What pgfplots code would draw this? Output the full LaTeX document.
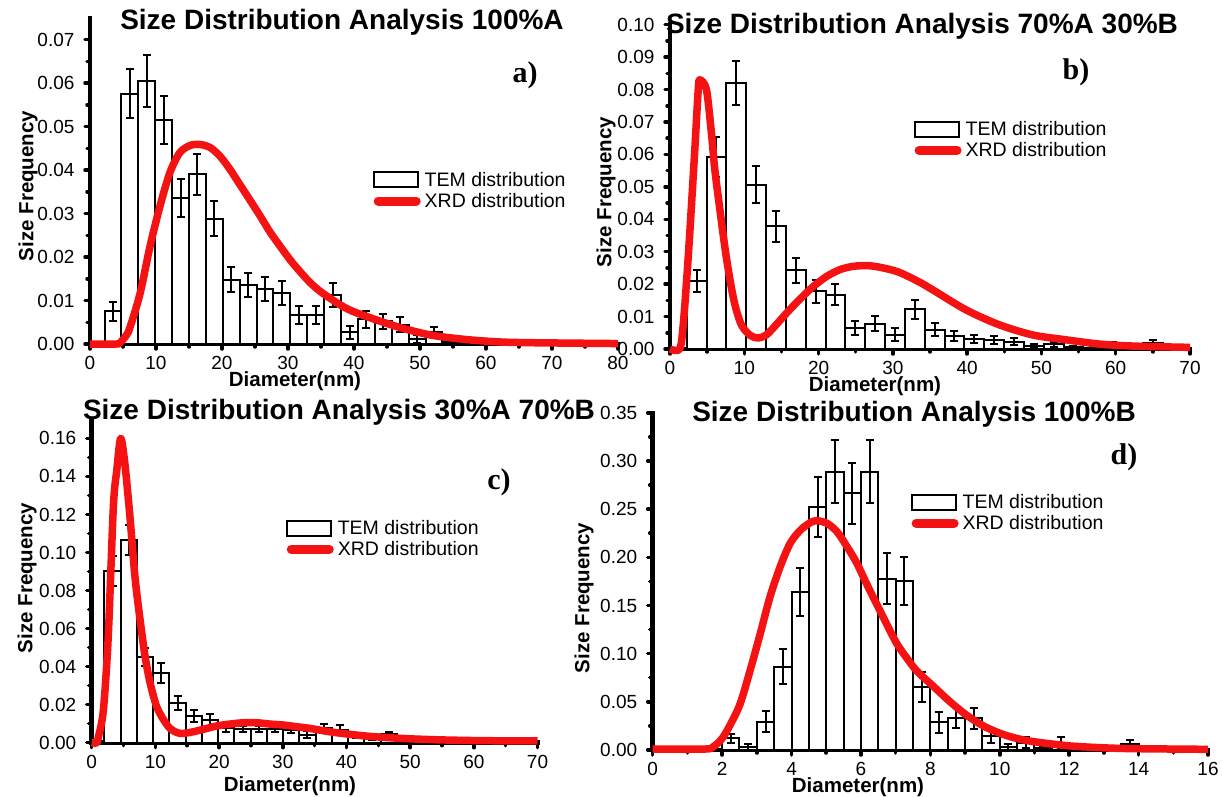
\documentclass[border=0pt]{standalone}
\usepackage{fontspec}
\setmainfont{Liberation Sans}
\newfontfamily\letterfont{Liberation Serif}
\usepackage{pgfplots}
\pgfplotsset{compat=1.18}
\definecolor{xrdred}{RGB}{245,18,18}
\tikzset{axframe/.style={line width=4.5pt, black, line cap=rect}}

\pgfplotsset{
  sizeplot/.style={
    scale only axis, axis lines=left,
    axis line style={-, line width=4.5pt, black},
    clip=false, anchor=south west, xmin=0, ymin=0,
    tick align=outside, major tick length=5pt, minor tick length=3pt,
    tick style={black, line width=3.5pt, line cap=round},
    minor x tick num=1, minor y tick num=1,
    scaled y ticks=false,
    tick label style={font=\fontsize{19}{22}\selectfont},
    xticklabel style={yshift=-4pt},
    /pgf/number format/assume math mode=true,
    yticklabel style={xshift=-7pt, /pgf/number format/.cd, fixed, fixed zerofill, precision=2},
    legend cell align=left,
    legend style={draw=none, fill=none, anchor=north west, inner sep=0pt,
      font=\fontsize{19.5}{22}\selectfont, row sep=1.5pt, nodes={inner sep=2pt},
      column sep=2pt},
  },
  tem/.style={ybar, bar shift=0pt, draw=black, fill=white, line width=2pt,
    error bars/y dir=both, error bars/y explicit,
    error bars/error bar style={line width=2pt, black},
    error bars/error mark options={rotate=90, mark size=4pt, line width=2pt, black},
    legend image code/.code={\draw[black, line width=2pt, fill=white] (0pt,-7.5pt) rectangle (44pt,7.5pt);}},
  xrd/.style={xrdred, line width=7.5pt, smooth, tension=0.5, line join=round, no marks,
    legend image code/.code={\draw[xrdred, line width=9pt, line cap=round] (4pt,0pt) -- (42pt,0pt);}},
}

\begin{document}
\begin{tikzpicture}[x=1pt,y=1pt]
\useasboundingbox (0,0) rectangle (1222,796);
\coordinate (pa) at (90,452);
\coordinate (pb) at (670,447);
\coordinate (pc) at (91.7,53.3);
\coordinate (pd) at (652.7,46);

% a) 100%A
\begin{axis}[sizeplot, at={(pa)}, width=528pt, height=326pt,
  xmax=80, ymax=0.075, xtick={0,10,...,80},
  ytick={0,0.01,0.02,0.03,0.04,0.05,0.06,0.07},
  legend style={at={(0.536,0.534)}}]
\draw[axframe] (rel axis cs:0,1) -- (rel axis cs:0,0) -- (rel axis cs:1,0);
\addplot[bar width=2.56, tem] coordinates {
 (3.48,0.0075) +- (0,0.0022)
 (6.04,0.0576) +- (0,0.0057)
 (8.60,0.0605) +- (0,0.0059)
 (11.16,0.0515) +- (0,0.0055)
 (13.72,0.0336) +- (0,0.0044)
 (16.28,0.0390) +- (0,0.0048)
 (18.84,0.0288) +- (0,0.0040)
 (21.40,0.0148) +- (0,0.0029)
 (23.96,0.0136) +- (0,0.0027)
 (26.52,0.0127) +- (0,0.0027)
 (29.08,0.0118) +- (0,0.0028)
 (31.64,0.0067) +- (0,0.0021)
 (34.20,0.0067) +- (0,0.0021)
 (36.76,0.0113) +- (0,0.0027)
 (39.32,0.0027) +- (0,0.0015)
 (41.88,0.0057) +- (0,0.0020)
 (44.44,0.0052) +- (0,0.0018)
 (47.00,0.0044) +- (0,0.0017)
 (49.56,0.0011) +- (0,0.0009)
 (52.12,0.0027) +- (0,0.0013)
 (54.68,0.0005) +- (0,0.0003)
};
\addplot[xrd] coordinates {
 (0,0) (4,0) (4.5,0.0002) (5.5,0.002) (6.1,0.004) (7.6,0.0117) (9.1,0.0225)
 (10.6,0.0317) (12.1,0.0394) (13.6,0.044) (15.2,0.0457) (16.7,0.0459)
 (18.2,0.0452) (19.7,0.0432) (21.2,0.0402) (22.7,0.0367) (24.2,0.0332)
 (25.8,0.0294) (27.3,0.0257) (28.8,0.0225) (30.3,0.0194) (31.8,0.0167)
 (33.3,0.0142) (34.8,0.0122) (36.4,0.0105) (37.9,0.009) (39.4,0.0078)
 (41.4,0.0066) (46.5,0.004) (51.5,0.0021) (56.5,0.0011) (61.7,0.0005)
 (66.7,0.0003) (80,0.0001)
};
\legend{TEM distribution, XRD distribution}
\end{axis}

% b) 70%A 30%B
\begin{axis}[sizeplot, at={(pb)}, width=520pt, height=324.3pt,
  xmax=70, ymax=0.10, xtick={0,10,...,70},
  ytick={0,0.01,0.02,0.03,0.04,0.05,0.06,0.07,0.08,0.09,0.10},
  legend style={at={(0.469,0.709)}}]
\draw[axframe] (rel axis cs:0,1) -- (rel axis cs:0,0) -- (rel axis cs:1,0);
\addplot[bar width=2.67, tem] coordinates {
 (3.58,0.0211) +- (0,0.0034)
 (6.25,0.0591) +- (0,0.0062)
 (8.92,0.0820) +- (0,0.0068)
 (11.59,0.0507) +- (0,0.0056)
 (14.26,0.0378) +- (0,0.0048)
 (16.93,0.0243) +- (0,0.0039)
 (19.60,0.0178) +- (0,0.0036)
 (22.27,0.0168) +- (0,0.0033)
 (24.94,0.0065) +- (0,0.0022)
 (27.61,0.0078) +- (0,0.0023)
 (30.28,0.0044) +- (0,0.0020)
 (32.95,0.0123) +- (0,0.0029)
 (35.62,0.0059) +- (0,0.0020)
 (38.29,0.0041) +- (0,0.0015)
 (40.96,0.0030) +- (0,0.0012)
 (43.63,0.0028) +- (0,0.0012)
 (46.30,0.0022) +- (0,0.0011)
 (48.97,0.0009) +- (0,0.0007)
 (51.64,0.0015) +- (0,0.0008)
 (54.31,0.0005) +- (0,0.0004)
 (56.98,0.0004) +- (0,0.0004)
 (59.65,0.0015) +- (0,0.0007)
 (62.32,0.0005) +- (0,0.0004)
 (64.99,0.0020) +- (0,0.0007)
};
\addplot[xrd] coordinates {
 (0,0) (1.3,0) (1.8,0.008) (2.5,0.030) (3.3,0.060) (3.8,0.080) (4.0,0.083)
 (4.9,0.080) (5.6,0.066) (6.0,0.056) (6.6,0.045) (7.6,0.028) (8.6,0.015)
 (9.6,0.0075) (10.8,0.0042) (11.9,0.0034) (13,0.0044) (14.3,0.0075)
 (15.7,0.0111) (17.5,0.0154) (19.3,0.0193) (21.1,0.0224) (22.9,0.0245)
 (24.7,0.0255) (26.7,0.0257) (28.7,0.025) (30.9,0.0236) (33.6,0.0206)
 (35.4,0.0182) (39.9,0.012) (44.4,0.0074) (48.9,0.0043) (53.4,0.0028)
 (57.9,0.0015) (62.4,0.0009) (70,0.0005)
};
\legend{TEM distribution, XRD distribution}
\end{axis}

% c) 30%A 70%B
\begin{axis}[sizeplot, at={(pc)}, width=445.8pt, height=323.3pt,
  xmax=70, ymax=0.17, xtick={0,10,...,70},
  ytick={0,0.02,0.04,0.06,0.08,0.10,0.12,0.14,0.16},
  legend style={at={(0.436,0.695)}}]
\draw[axframe] (rel axis cs:0,1) -- (rel axis cs:0,0) -- (rel axis cs:1,0);
\addplot[bar width=2.55, tem] coordinates {
 (3.28,0.0904) +- (0,0.0078)
 (5.83,0.1066) +- (0,0.0080)
 (8.38,0.0449) +- (0,0.0048)
 (10.93,0.0365) +- (0,0.0052)
 (13.48,0.0207) +- (0,0.0037)
 (16.03,0.0142) +- (0,0.0032)
 (18.58,0.0119) +- (0,0.0033)
 (21.13,0.0075) +- (0,0.0018)
 (23.68,0.0072) +- (0,0.0018)
 (26.23,0.0072) +- (0,0.0018)
 (28.78,0.0072) +- (0,0.0018)
 (31.33,0.0068) +- (0,0.0016)
 (33.88,0.0042) +- (0,0.0018)
 (36.43,0.0075) +- (0,0.0022)
 (38.98,0.0068) +- (0,0.0025)
 (41.53,0.0035) +- (0,0.0010)
 (44.08,0.0025) +- (0,0.0010)
 (46.63,0.0048) +- (0,0.0008)
 (49.18,0.0010) +- (0,0.0005)
 (51.73,0.0008) +- (0,0.0004)
 (54.28,0.0005) +- (0,0.0003)
};
\addplot[xrd] coordinates {
 (0,0) (0.8,0) (1.05,0.003) (1.83,0.017) (2.6,0.056) (3.4,0.124) (3.93,0.143)
 (4.55,0.160) (5.2,0.147) (6.0,0.119) (6.8,0.087) (7.6,0.0645) (8.4,0.045)
 (9.2,0.031) (10.2,0.019) (11.3,0.012) (12.3,0.0075) (13.4,0.0053)
 (14.4,0.0049) (16,0.0058) (17.5,0.007) (19.6,0.0088) (21.7,0.0098)
 (23.8,0.0105) (25.9,0.0105) (28,0.0098) (30.1,0.0093) (32.2,0.0084)
 (34.3,0.0075) (37.9,0.0055) (43.1,0.0035) (48.4,0.0023) (53.6,0.0016)
 (58.8,0.0012) (64,0.001) (70,0.0009)
};
\legend{TEM distribution, XRD distribution}
\end{axis}

% d) 100%B
\begin{axis}[sizeplot, at={(pd)}, width=555.3pt, height=337.2pt,
  xmax=16, ymax=0.35, xtick={0,2,...,16},
  ytick={0,0.05,0.10,0.15,0.20,0.25,0.30,0.35},
  legend style={at={(0.465,0.765)}}]
\draw[axframe] (rel axis cs:0,1) -- (rel axis cs:0,0) -- (rel axis cs:1,0);
\addplot[bar width=0.5, tem] coordinates {
 (2.25,0.0120) +- (0,0.0050)
 (2.75,0.0035) +- (0,0.0030)
 (3.25,0.0294) +- (0,0.0107)
 (3.75,0.0865) +- (0,0.0180)
 (4.25,0.1640) +- (0,0.0246)
 (4.75,0.2526) +- (0,0.0310)
 (5.25,0.2889) +- (0,0.0324)
 (5.75,0.2664) +- (0,0.0317)
 (6.25,0.2889) +- (0,0.0324)
 (6.75,0.1780) +- (0,0.0260)
 (7.25,0.1758) +- (0,0.0250)
 (7.75,0.0650) +- (0,0.0156)
 (8.25,0.0287) +- (0,0.0110)
 (8.75,0.0336) +- (0,0.0110)
 (9.25,0.0330) +- (0,0.0110)
 (9.75,0.0145) +- (0,0.0070)
 (10.25,0.0035) +- (0,0.0030)
 (10.75,0.0076) +- (0,0.0060)
 (11.25,0.0017) +- (0,0.0010)
 (11.75,0.0076) +- (0,0.0060)
 (12.25,0.0035) +- (0,0.0020)
 (12.75,0.0020) +- (0,0.0010)
 (13.25,0.0010) +- (0,0.0010)
 (13.75,0.0060) +- (0,0.0040)
};
\addplot[xrd] coordinates {
 (0,0.001) (1.5,0.001) (1.75,0.0035) (2.0,0.012) (2.23,0.026) (2.52,0.048)
 (2.81,0.083) (3.1,0.121) (3.38,0.159) (3.67,0.19) (3.96,0.2145) (4.25,0.228)
 (4.54,0.236) (4.73,0.238) (5.02,0.2353) (5.31,0.2266) (5.6,0.211)
 (5.88,0.194) (6.17,0.172) (6.46,0.151) (6.75,0.13) (7.04,0.11) (7.33,0.095)
 (7.61,0.082) (8.09,0.066) (8.57,0.05) (9.05,0.036) (9.53,0.025)
 (10.01,0.0173) (10.49,0.012) (10.97,0.0087) (11.93,0.0045) (12.9,0.0024)
 (13.86,0.0014) (16,0.0007)
};
\legend{TEM distribution, XRD distribution}
\end{axis}

% titles, axis labels, panel letters
\begin{scope}[every node/.style={font=\bfseries\fontsize{28}{30}\selectfont, inner sep=0pt}]
\node at (342,774) {Size Distribution Analysis 100\%A};
\node at (922,770) {Size Distribution Analysis 70\%A 30\%B};
\node at (339,384) {Size Distribution Analysis 30\%A 70\%B};
\node at (914,382) {Size Distribution Analysis 100\%B};
\end{scope}
\begin{scope}[every node/.style={font=\bfseries\fontsize{20.5}{22}\selectfont, inner sep=0pt}]
\node[rotate=90] at (28,610) {Size Frequency};
\node[rotate=90] at (606,604) {Size Frequency};
\node[rotate=90] at (27,218) {Size Frequency};
\node[rotate=90] at (584,198) {Size Frequency};
\node at (295,415) {Diameter(nm)};
\node at (875,410) {Diameter(nm)};
\node at (290,10) {Diameter(nm)};
\node at (858,9) {Diameter(nm)};
\end{scope}
\begin{scope}[every node/.style={font=\letterfont\bfseries\fontsize{30}{32}\selectfont, inner sep=0pt}]
\node at (525,721) {a)};
\node at (1076,724) {b)};
\node at (499,314) {c)};
\node at (1124,339) {d)};
\end{scope}
\end{tikzpicture}
\end{document}
